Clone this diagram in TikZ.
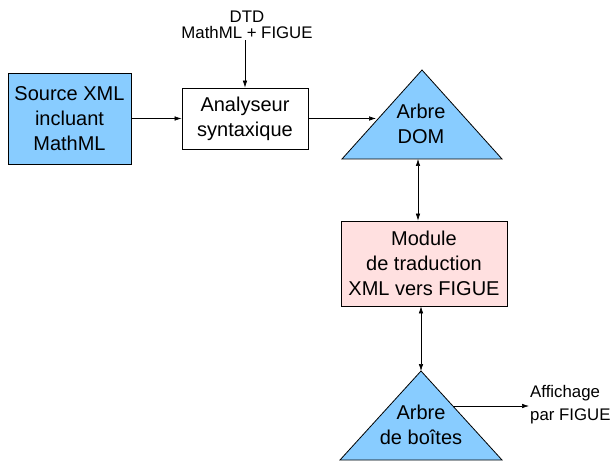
\documentclass[tikz,border=0pt]{standalone}
\usepackage{fontspec}
\setmainfont{Liberation Sans}
\usepackage{tikz}
\usetikzlibrary{positioning,arrows.meta}

\definecolor{treeblue}{RGB}{136,204,255}
\definecolor{modpink}{RGB}{255,224,224}

\begin{document}
\begin{tikzpicture}[x=1pt,y=-1pt,
  every node/.style={align=center,font=\fontsize{20}{25}\selectfont},
  block/.style={draw,thick,inner sep=2pt},
  tree/.style={draw,thick,fill=treeblue,line join=miter},
  note/.style={font=\fontsize{16.8}{16.5}\selectfont,inner sep=1pt},
  arr/.style={-{Latex[length=7pt,width=4.5pt]},semithick},
  darr/.style={{Latex[length=7pt,width=4.5pt]}-{Latex[length=7pt,width=4.5pt]},semithick}]
  \useasboundingbox (0,0) rectangle (613,462);
  % blocs
  \node[block,fill=treeblue,minimum width=123pt,minimum height=91pt] (src) at (69.5,118.5)
    {Source XML\\incluant\\MathML};
  \node[block,fill=white,minimum width=126pt,minimum height=61pt] (ana) at (245,118.5)
    {Analyseur\\syntaxique};
  \node[note] (dtd) at (247,25) {DTD\\MathML + FIGUE};
  \node[block,fill=modpink,minimum width=166pt,minimum height=85pt] (mod) at (424,263.5)
    {Module\\de traduction\\XML vers FIGUE};
  % arbres
  \coordinate (domTop) at (422,70);
  \coordinate (domL) at (376,121);
  \coordinate (domB) at (418,159);
  \draw[tree] (domTop) -- (502,159) -- (342,159) -- cycle;
  \node[inner sep=0pt] (dom) at (421,124) {Arbre\\DOM};
  \coordinate (boxTop) at (421,371);
  \coordinate (boxR) at (453,406);
  \draw[tree] (boxTop) -- (502,460) -- (340,460) -- cycle;
  \node[inner sep=0pt] (boxes) at (421,425) {Arbre\\de boîtes};
  \node[note,font=\fontsize{16.8}{23}\selectfont,align=left,anchor=west] (aff) at (529,405) {Affichage\\par FIGUE};
  % liens
  \draw[arr] (dtd.south -| ana) -- (ana);
  \draw[arr] (src) -- (ana);
  \draw[arr] (ana.east) -- (ana.east -| domL);
  \draw[darr] (domB) -- (domB |- mod.north);
  \draw[darr] (mod.south -| boxTop) -- (boxTop);
  \draw[arr] (boxR) -- (boxR -| aff.west);
\end{tikzpicture}
\end{document}
